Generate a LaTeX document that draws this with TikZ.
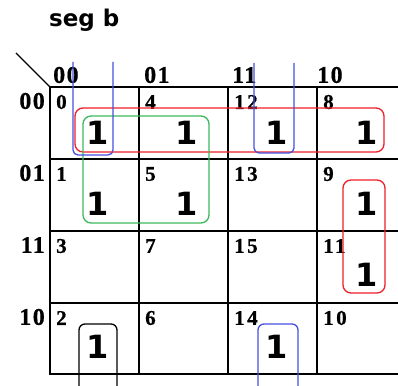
\documentclass[tikz,border=0pt]{standalone}
\usepackage{fontspec}
\newfontfamily\hdrfont{Liberation Serif}[LetterSpace=6, BoldFeatures={FakeBold=0.6}]
\newfontfamily\idxfont{Liberation Serif}[LetterSpace=12, BoldFeatures={FakeBold=0.6}]
\newfontfamily\onefont{DejaVu Sans}
\begin{document}
\begin{tikzpicture}[x=1pt,y=-1pt,
  gridline/.style={line width=2pt, black},
  hdr/.style={font=\hdrfont\bfseries\fontsize{24}{24}\selectfont, inner sep=0},
  idx/.style={font=\idxfont\bfseries\fontsize{21}{21}\selectfont, inner sep=0, anchor=west},
  one/.style={font=\onefont\bfseries\fontsize{32}{32}\selectfont, inner sep=0},
  ring/.style={line width=1.3pt, rounded corners=8pt},
  redc/.style={draw={rgb,255:red,240;green,30;blue,40}},
  grnc/.style={draw={rgb,255:red,60;green,185;blue,90}},
  bluc/.style={draw={rgb,255:red,70;green,80;blue,225}}]
\useasboundingbox (0,0) rectangle (398,385);
\fill[white] (0,0) rectangle (398,385);
% title
\node[font=\onefont\bfseries\fontsize{23}{23}\selectfont, inner sep=0, anchor=west] (title) at (49,20) {seg b};
% grid
\foreach \y in {87,159,231,303,374} \draw[gridline] (49,\y) -- (398,\y);
\foreach \x in {50,139,228,317} \draw[gridline] (\x,86) -- (\x,375);
\draw[line width=1.2pt] (16,53) -- (50,87);
% column headers
\node[hdr, anchor=west] (c00) at (53,75) {00};
\node[hdr, anchor=west] (c01) at (144,75) {01};
\node[hdr, anchor=west] (c11) at (232,75) {11};
\node[hdr, anchor=west] (c10) at (317,75) {10};
% row headers
\node[hdr, anchor=east] (r00) at (45,101) {00};
\node[hdr, anchor=east] (r01) at (45,173) {01};
\node[hdr, anchor=east] (r11) at (45,245) {11};
\node[hdr, anchor=east] (r10) at (45,317) {10};
% cell indices
\node[idx] (i0) at (56,102) {0};
\node[idx] (i4) at (145,102) {4};
\node[idx] (i12) at (234,102) {12};
\node[idx] (i8) at (323,102) {8};
\node[idx] (i1) at (56,174) {1};
\node[idx] (i5) at (145,174) {5};
\node[idx] (i13) at (234,174) {13};
\node[idx] (i9) at (323,174) {9};
\node[idx] (i3) at (56,246) {3};
\node[idx] (i7) at (145,246) {7};
\node[idx] (i15) at (234,246) {15};
\node[idx] (i11) at (323,246) {11};
\node[idx] (i2) at (56,318) {2};
\node[idx] (i6) at (145,318) {6};
\node[idx] (i14) at (234,318) {14};
\node[idx] (i10) at (323,318) {10};
% ones
\node[one] (o0) at (98,133) {1};
\node[one] (o4) at (187,133) {1};
\node[one] (o12) at (277,133) {1};
\node[one] (o8) at (367,133) {1};
\node[one] (o1) at (98,204) {1};
\node[one] (o5) at (187,204) {1};
\node[one] (o9) at (367,204) {1};
\node[one] (o11) at (367,275) {1};
\node[one] (o2) at (98,347) {1};
\node[one] (o14) at (277,347) {1};
% loops
\draw[ring, redc] (75,108) rectangle (384,152);
\draw[ring, grnc] (83,116) rectangle (209,223);
\draw[ring, bluc, rounded corners=5pt] (73,62) -- (73,155) -- (113,155) -- (113,62);
\draw[ring, bluc, rounded corners=5pt] (254,63) -- (254,153) -- (294,153) -- (294,63);
\draw[ring, redc] (343,180) rectangle (385,293);
\draw[ring, black, rounded corners=6pt] (79,386) -- (79,324) -- (117,324) -- (117,386);
\draw[ring, bluc, rounded corners=6pt] (258,386) -- (258,324) -- (298,324) -- (298,386);
\end{tikzpicture}
\end{document}
